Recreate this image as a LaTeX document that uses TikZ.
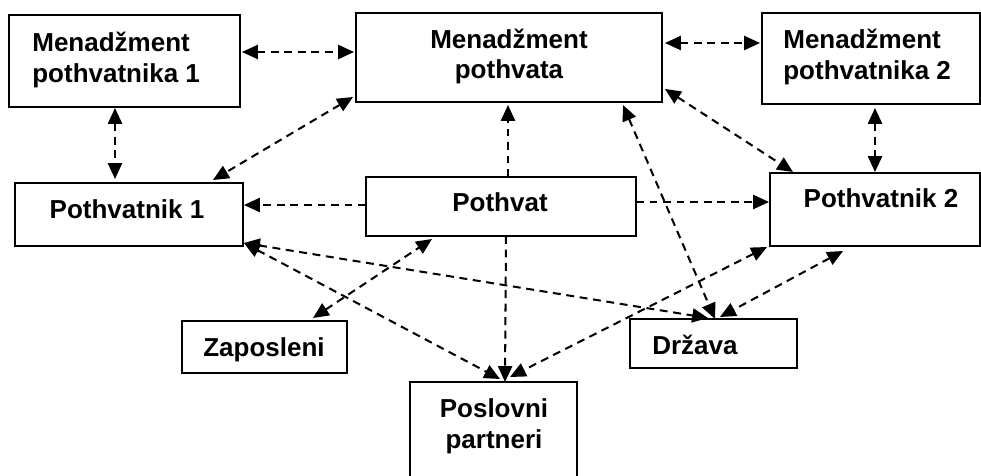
\documentclass[tikz,border=0pt]{standalone}
\usepackage{fontspec}
\setmainfont{Liberation Sans}
\usetikzlibrary{arrows.meta,calc}
\tikzset{
  box/.style={draw, line width=1.1pt, rectangle, inner sep=0pt},
  lbl/.style={font=\fontsize{14.8}{17.6}\selectfont\bfseries, inner sep=0pt},
  conn/.style={line width=1.15pt, dash pattern=on 4.5pt off 3.2pt},
  tip/.style={-{Triangle[length=9pt,width=8pt]}},
  both/.style={{Triangle[length=9pt,width=8pt]}-{Triangle[length=9pt,width=8pt]}}
}
\begin{document}
\begin{tikzpicture}[x=0.02cm,y=-0.02cm]
\useasboundingbox (0,0) rectangle (981,476);
% boxes
\node[box, minimum width=4.62cm, minimum height=1.84cm] (M1) at (124.5,61) {};
\node[box, minimum width=6.12cm, minimum height=1.78cm] (MP) at (509,57.5) {};
\node[box, minimum width=4.36cm, minimum height=1.82cm] (M2) at (871,58.5) {};
\node[box, minimum width=4.56cm, minimum height=1.26cm] (P1) at (129,214.5) {};
\node[box, minimum width=5.40cm, minimum height=1.18cm] (PV) at (501,206.5) {};
\node[box, minimum width=4.20cm, minimum height=1.46cm] (P2) at (875,209.5) {};
\node[box, minimum width=3.30cm, minimum height=1.04cm] (Z) at (264.5,347) {};
\node[box, minimum width=3.34cm, minimum height=0.98cm] (D) at (713.5,343.5) {};
\node[box, minimum width=3.34cm, minimum height=2.16cm] (PP) at (493.5,436) {};
% labels (base anchor = baseline of the last line)
\node[lbl, anchor=base west, align=left] (tM1) at (32,82.5) {Menadžment\\pothvatnika 1};
\node[lbl, anchor=base, align=center] (tMP) at (509,79) {Menadžment\\pothvata};
\node[lbl, anchor=base west, align=left] (tM2) at (783,79.5) {Menadžment\\pothvatnika 2};
\node[lbl, anchor=base] (tP1) at (127,219) {Pothvatnik 1};
\node[lbl, anchor=base] (tPV) at (500,212) {Pothvat};
\node[lbl, anchor=base] (tP2) at (881,208) {Pothvatnik 2};
\node[lbl, anchor=base] (tZ) at (264,357) {Zaposleni};
\node[lbl, anchor=base west] (tD) at (652,355) {Država};
\node[lbl, anchor=base, align=center] (tPP) at (494,448) {Poslovni\\partneri};
% connectors
\draw[conn,both] ($(M1)+(117.5,-9)$) -- ($(MP)+(-155,-5.5)$);
\draw[conn,both] ($(M1)+(-9.5,47)$) -- ($(P1)+(-14,-35.5)$);
\draw[conn,both] ($(MP)+(-156,39.5)$) -- ($(P1)+(84,-34.5)$);
\draw[conn,tip] ($(PV)+(-135,-1.5)$) -- ($(P1)+(115,-9.5)$);
\draw[conn,tip] ($(PV)+(7,-29.5)$) -- ($(MP)+(-1,47.5)$);
\draw[conn,tip] ($(PV)+(135,-4.5)$) -- ($(P2)+(-106,-7.5)$);
\draw[conn,both] ($(MP)+(156,31.5)$) -- ($(P2)+(-82,-37.5)$);
\draw[conn,both] ($(M2)+(4,49.5)$) -- ($(P2)+(0,-37.5)$);
\draw[conn,both] ($(MP)+(156,-14.5)$) -- ($(M2)+(-111,-15.5)$);
\draw[conn,both] ($(MP)+(114,47.5)$) -- ($(D)+(1.5,-24.5)$);
\draw[conn,both] ($(P1)+(115,28.5)$) -- ($(PP)+(6.5,-57)$);
\draw[conn,both] ($(P1)+(115,28.5)$) -- ($(D)+(-5.5,-25.5)$);
\draw[conn,tip] ($(PV)+(5,29.5)$) -- ($(PP)+(11.5,-54)$);
\draw[conn,both] ($(Z)+(48.5,-29)$) -- ($(PV)+(-69,32.5)$);
\draw[conn,both] ($(P2)+(-108,37.5)$) -- ($(PP)+(16.5,-59)$);
\draw[conn,both] ($(P2)+(-32,41.5)$) -- ($(D)+(6.5,-26.5)$);
\end{tikzpicture}
\end{document}
